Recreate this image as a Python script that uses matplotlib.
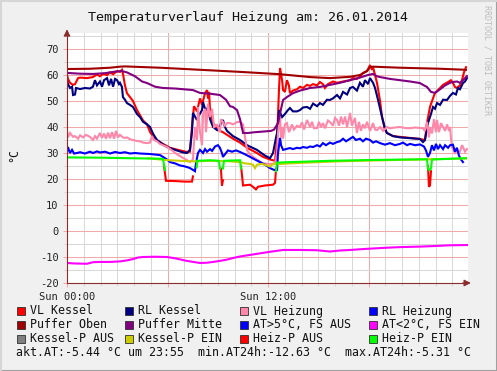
import numpy as np
import matplotlib
matplotlib.use('Agg')
import matplotlib.pyplot as plt
from matplotlib.patches import Rectangle
from matplotlib.lines import Line2D
from matplotlib.ticker import MultipleLocator

nan = np.nan

# times in hours since 00:00, values in degC
vl_kessel_t = [0.00, 0.06, 0.18, 0.36, 0.48, 0.66, 0.78, 1.19, 1.55, 1.79, 1.97, 2.15, 2.39, 2.57, 2.75, 2.99,
               3.16, 3.28, 3.34, 3.46, 3.58, 3.76, 3.94, 4.18, 4.36, 4.54, 4.78, 4.96, 5.13, 5.37, 5.73, 6.15,
               6.75, 7.16, 7.34, 7.46, 7.58, 7.76, 7.94, 8.06, 8.24, 8.36, 8.42, 8.48, 8.54, 8.72, 8.96, 9.13,
               9.31, 9.55, 9.91, 10.33, 10.75, 11.34, 11.70, 12.12, 12.42, 12.54, 12.66, 12.72, 12.84, 12.90,
               13.01, 13.13, 13.25, 13.31, 13.49, 13.73, 13.91, 14.09, 14.33, 14.51, 14.69, 14.93, 15.10, 15.28,
               15.40, 15.58, 15.88, 16.12, 16.48, 16.90, 17.07, 17.31, 17.49, 17.67, 17.91, 18.09, 18.21, 18.27,
               18.39, 18.51, 18.69, 18.81, 18.98, 19.10, 19.46, 19.88, 20.48, 21.07, 21.37, 21.49, 21.67, 21.85,
               21.97, 22.27, 22.45, 22.75, 22.92, 23.04, 23.16, 23.28, 23.46, 23.58, 23.70, 23.82]
vl_kessel = [60.0, 58.5, 57.0, 56.2, 56.5, 58.8, 59.0, 58.8, 59.2, 60.2, 59.5, 60.4, 60.0, 61.0, 60.3, 61.5,
             61.2, 62.0, 60.5, 56.0, 53.0, 51.5, 50.0, 46.5, 44.5, 42.5, 41.0, 38.0, 36.5, 35.0, 33.5, 32.0,
             31.0, 30.4, 30.5, 40.0, 48.0, 46.0, 51.0, 48.5, 53.0, 54.2, 51.0, 53.5, 46.5, 41.5, 39.5, 38.5,
             38.0, 37.0, 35.5, 34.0, 32.0, 30.0, 28.5, 27.5, 27.0, 35.0, 55.0, 62.7, 58.0, 54.2,
             53.5, 58.0, 56.0, 53.0, 54.0, 54.5, 55.5, 55.0, 56.2, 55.8, 56.5, 56.0, 57.3, 56.5,
             55.0, 56.5, 57.5, 57.0, 57.5, 58.0, 58.8, 58.5, 59.5, 60.8, 61.5, 63.8, 62.0, 63.0,
             60.0, 56.9, 50.0, 43.8, 39.0, 37.7, 36.5, 36.2, 35.8, 35.4, 35.0, 41.5, 47.7, 51.0,
             53.1, 55.0, 56.2, 57.3, 58.0, 57.0, 55.4, 55.0, 56.0, 58.0, 61.0, 63.0]

rl_kessel_t = [0.00, 0.06, 0.18, 0.30, 0.36, 0.48, 0.54, 0.78, 1.07, 1.37, 1.55, 1.67, 1.79, 1.97, 2.09, 2.21,
               2.39, 2.51, 2.63, 2.75, 2.87, 2.99, 3.10, 3.16, 3.28, 3.34, 3.46, 3.58, 3.76, 3.94, 4.18, 4.36,
               4.54, 4.78, 4.96, 5.13, 5.37, 5.67, 5.97, 6.45, 6.93, 7.16, 7.34, 7.46, 7.52, 7.64, 7.76, 7.88,
               8.06, 8.12, 8.24, 8.36, 8.42, 8.54, 8.72, 8.96, 9.13, 9.31, 9.43, 9.55, 9.91, 10.33, 10.75, 11.34,
               11.82, 12.12, 12.30, 12.48, 12.54, 12.66, 12.84, 13.01, 13.19, 13.31, 13.49, 13.73, 13.91, 14.09,
               14.33, 14.51, 14.69, 14.93, 15.10, 15.28, 15.52, 15.70, 15.88, 16.12, 16.30, 16.48, 16.72, 16.90,
               17.07, 17.31, 17.49, 17.67, 17.79, 17.97, 18.09, 18.27, 18.39, 18.57, 18.81, 18.98, 19.10, 19.46,
               19.88, 20.48, 21.07, 21.25, 21.37, 21.55, 21.73, 21.85, 21.97, 22.09, 22.27, 22.45, 22.69, 22.87,
               23.04, 23.22, 23.34, 23.46, 23.64, 23.76, 23.88]
rl_kessel = [58.0, 56.5, 55.0, 55.5, 52.3, 52.5, 55.0, 54.6, 55.0, 54.8, 55.5, 58.0, 56.0, 57.5, 55.5, 58.0,
             58.8, 56.0, 58.5, 55.5, 58.5, 58.0, 56.5, 57.0, 55.4, 51.5, 50.5, 49.2, 48.5, 47.7, 45.0, 43.8,
             42.0, 41.0, 40.0, 37.5, 35.0, 33.5, 32.3, 31.2, 30.2, 30.0, 31.2, 38.0, 45.4, 44.0, 42.7, 44.5,
             46.5, 49.6, 47.0, 46.5, 48.0, 43.0, 40.0, 38.8, 40.5, 42.7, 40.0, 38.5, 36.5, 35.0, 33.0, 31.2,
             29.0, 28.0, 30.0, 36.0, 37.7, 46.5, 43.8, 45.0, 46.5, 47.3, 46.0, 46.0, 46.5, 47.5,
             47.7, 47.0, 49.0, 48.0, 49.2, 48.5, 50.5, 50.4, 51.0, 52.3, 51.0, 53.5, 52.5, 55.0,
             55.4, 54.0, 57.0, 55.5, 58.0, 56.5, 58.8, 57.0, 55.0, 50.4, 43.8, 39.5, 37.7, 36.5,
             36.0, 35.7, 35.4, 34.2, 35.0, 41.5, 45.0, 47.7, 47.0, 49.2, 48.5, 50.5, 50.4, 52.0,
             53.1, 52.5, 55.0, 54.5, 56.9, 57.5, 58.8]

vl_heizung_t = [0.00, 0.06, 0.18, 0.36, 0.48, 0.66, 0.78, 0.96, 1.13, 1.37, 1.55, 1.67, 1.79, 1.97, 2.09, 2.21,
                2.33, 2.45, 2.57, 2.69, 2.81, 2.93, 3.04, 3.16, 3.34, 3.46, 3.58, 3.76, 3.94, 4.18, 4.36, 4.54,
                4.78, 4.96, 5.07, 5.19, 5.37, 5.55, 5.73, 5.97, 6.27, 6.57, 6.87, 7.16, 7.34, 7.52, 7.64, 7.76,
                7.82, 7.94, 8.06, 8.12, 8.24, 8.30, 8.42, 8.54, 8.66, 8.78, 8.96, 9.13, 9.19, 9.31, 9.43, 9.55,
                9.73, 9.91, 10.15, 10.33, 10.51, 10.63, 10.75, 10.93, 11.22, 11.70, 12.12, 12.42, 12.54, 12.60,
                12.72, 12.78, 12.84, 12.90, 13.01, 13.13, 13.25, 13.31, 13.43, 13.55, 13.73, 13.91, 14.03, 14.15,
                14.33, 14.51, 14.63, 14.75, 14.93, 15.04, 15.16, 15.28, 15.40, 15.58, 15.70, 15.88, 16.00, 16.12,
                16.24, 16.36, 16.48, 16.60, 16.72, 16.90, 17.01, 17.19, 17.31, 17.43, 17.55, 17.67, 17.79, 17.91,
                18.09, 18.27, 18.39, 18.51, 18.69, 18.87, 19.10, 19.28, 19.58, 19.88, 20.18, 20.48, 20.78, 21.07,
                21.25, 21.37, 21.49, 21.61, 21.67, 21.79, 21.91, 22.03, 22.09, 22.21, 22.33, 22.45, 22.57, 22.69,
                22.81, 22.87, 22.92, 22.98, 23.16, 23.28, 23.46, 23.58, 23.64, 23.76, 23.88]
vl_heizung = [38.5, 36.0, 37.7, 36.2, 36.5, 35.5, 36.8, 36.0, 37.0, 36.2, 35.0, 36.5, 35.5, 37.7, 35.8, 37.5,
              35.5, 37.8, 35.7, 38.0, 35.5, 38.5, 36.0, 37.0, 36.0, 35.8, 36.0, 35.3, 35.0, 34.6, 34.5, 34.0,
              33.8, 34.0, 36.5, 35.0, 34.5, 33.5, 33.0, 32.3, 31.0, 29.5, 28.3, 27.3, 26.5, 27.5, 40.0, 35.0,
              47.7, 38.0, 33.0, 45.0, 47.0, 38.0, 49.0, 43.8, 47.0, 40.0, 40.8, 38.0, 43.0, 41.9, 40.5, 41.5,
              41.5, 41.0, 41.9, 42.0, 41.0, 36.0, 31.0, 29.5, 28.0, 26.0, 25.8, 26.0, 30.0, 38.0,
              44.0, 36.0, 40.0, 35.5, 41.0, 41.5, 38.0, 38.8, 41.0, 39.0, 40.5, 40.0, 41.8, 39.0,
              42.7, 40.0, 42.0, 39.5, 39.6, 42.0, 40.0, 41.5, 39.5, 42.5, 41.9, 40.5, 43.5, 42.7,
              40.5, 44.0, 41.0, 44.0, 40.0, 45.4, 40.5, 43.5, 37.7, 42.0, 38.5, 41.0, 39.5, 42.0,
              38.5, 41.5, 39.0, 38.8, 40.0, 38.5, 40.0, 39.5, 39.8, 40.0, 39.6, 39.5, 39.8, 39.6,
              39.5, 38.5, 42.0, 36.0, 40.0, 37.5, 43.0, 38.0, 42.7, 38.0, 41.5, 40.0, 38.5, 41.0,
              38.5, 40.0, 36.0, 32.3, 30.0, 31.0, 30.5, 33.0, 32.3, 30.5, 31.5]

rl_heizung_t = [0.00, 0.06, 0.12, 0.18, 0.30, 0.42, 0.60, 0.78, 1.07, 1.37, 1.55, 1.79, 1.97, 2.27, 2.57, 2.87,
                3.16, 3.46, 3.76, 4.06, 4.36, 4.66, 4.96, 5.25, 5.55, 5.73, 5.97, 6.15, 6.45, 6.75, 6.93, 7.16,
                7.34, 7.52, 7.64, 7.70, 7.76, 7.82, 7.94, 8.12, 8.24, 8.36, 8.54, 8.66, 8.84, 9.01, 9.13, 9.25,
                9.31, 9.43, 9.55, 9.61, 9.85, 10.09, 10.33, 10.63, 10.93, 11.22, 11.52, 11.82, 12.12, 12.36,
                12.54, 12.60, 12.72, 12.78, 12.90, 13.07, 13.31, 13.49, 13.73, 13.91, 14.09, 14.33, 14.51, 14.69,
                14.93, 15.10, 15.28, 15.46, 15.70, 15.88, 16.12, 16.30, 16.48, 16.66, 16.90, 17.07, 17.25, 17.49,
                17.67, 17.85, 18.09, 18.27, 18.45, 18.69, 18.98, 19.28, 19.58, 19.88, 20.06, 20.30, 20.48, 20.78,
                21.07, 21.31, 21.43, 21.55, 21.67, 21.79, 21.91, 22.03, 22.15, 22.27, 22.45, 22.57, 22.75, 22.87,
                23.04, 23.16, 23.28, 23.40, 23.52, 23.64]
rl_heizung = [30.5, 32.3, 31.0, 30.0, 31.2, 29.8, 30.0, 30.3, 29.8, 30.5, 30.0, 30.6, 30.2, 30.5, 29.8, 30.4,
              30.0, 30.3, 29.8, 30.0, 29.8, 29.7, 29.6, 29.4, 29.2, 28.5, 27.5, 26.5, 26.0, 25.2, 25.0, 24.6,
              24.2, 23.5, 23.0, 26.0, 28.0, 30.0, 31.2, 30.0, 31.5, 30.5, 31.5, 30.8, 32.5, 33.0, 32.0, 30.0,
              28.5, 29.5, 30.5, 31.0, 30.5, 31.0, 30.4, 29.5, 28.5, 27.5, 26.5, 25.5, 24.2, 23.5,
              23.5, 30.0, 35.8, 33.0, 31.2, 31.5, 31.9, 31.5, 32.0, 31.8, 32.3, 32.0, 32.5, 32.3,
              33.0, 32.5, 33.8, 33.0, 34.0, 33.5, 34.2, 34.5, 35.5, 34.5, 35.5, 36.2, 35.0, 35.5,
              34.5, 35.5, 35.0, 34.0, 34.5, 33.8, 33.2, 33.8, 33.0, 33.5, 34.0, 33.0, 33.5, 33.0,
              33.3, 32.5, 31.0, 28.5, 30.0, 33.0, 31.0, 33.5, 31.5, 33.0, 31.5, 33.0, 32.0, 33.0,
              33.2, 30.5, 32.0, 29.0, 27.5, 26.5]

puffer_oben_t = [0.00, 1.37, 2.57, 3.16, 3.46, 5.55, 7.94, 10.33, 12.72, 14.51, 15.70, 16.90, 17.49, 17.91,
                 18.09, 18.27, 19.88, 22.27, 23.82]
puffer_oben = [62.3, 62.4, 62.8, 63.2, 63.3, 62.8, 62.0, 61.2, 60.3, 59.2, 58.8, 59.3, 60.0, 61.5,
               63.0, 63.2, 62.8, 62.4, 62.0]

puffer_mitte_t = [0.00, 0.78, 1.55, 2.27, 2.87, 3.28, 3.58, 4.06, 4.48, 4.78, 5.25, 5.73, 6.45, 7.52, 7.94, 8.54,
                  9.13, 9.49, 9.73, 9.91, 10.15, 10.33, 10.51, 10.81, 11.22, 11.82, 12.18, 12.36, 12.60, 12.78,
                  12.90, 13.13, 13.49, 13.91, 14.51, 15.10, 15.70, 16.30, 16.90, 17.49, 17.97, 18.27, 18.51, 18.69,
                  19.28, 19.88, 20.48, 21.07, 21.31, 21.49, 21.73, 21.97, 22.27, 22.57, 22.87, 23.04, 23.28, 23.46,
                  23.64, 23.88]
puffer_mitte = [60.8, 60.5, 60.4, 60.7, 61.3, 61.5, 61.0, 59.5, 57.5, 56.9, 55.5, 55.0, 54.8, 54.2, 53.1, 52.8,
                52.3, 50.5, 48.0, 47.7, 46.5, 43.0, 37.7, 37.7, 38.0, 38.3, 38.5, 39.0, 41.5, 47.0,
                50.4, 51.5, 53.0, 54.0, 55.0, 55.4, 56.2, 57.0, 58.0, 59.0, 60.0, 60.4, 59.5, 59.2,
                58.5, 58.0, 57.5, 56.9, 56.0, 55.4, 53.5, 53.1, 54.5, 56.0, 57.0, 57.3, 57.5, 57.0,
                58.0, 59.6]

at_kalt_t = [0.00, 0.48, 1.19, 1.55, 1.97, 2.57, 3.16, 3.58, 3.94, 4.24, 4.54, 5.25, 5.97, 6.45, 7.16, 7.64,
             7.94, 8.36, 8.72, 9.13, 9.55, 9.91, 10.33, 10.93, 11.52, 12.12, 12.90, 13.91, 14.93, 15.70,
             16.30, 16.90, 17.79, 18.87, 19.88, 21.07, 21.85, 22.87, 23.88]
at_kalt = [-12.3, -12.5, -12.6, -12.0, -11.9, -11.9, -11.7, -11.3, -10.8, -10.2, -10.0, -9.9, -10.0, -10.5,
           -11.5, -12.0, -12.3, -12.2, -11.9, -11.5, -11.0, -10.4, -9.8, -9.2, -8.6, -8.0, -7.3, -7.3, -7.4,
           -7.9, -7.5, -7.3, -6.9, -6.5, -6.2, -6.0, -5.8, -5.5, -5.4]

kessel_p_ein_t = [4.84, 5.55, 6.15, 6.75, 7.34, 7.76, 8.54, 9.73, 10.33, 10.63, 10.93, 11.10, 11.22, 11.34,
                  11.64, 11.94, 12.12, 12.24, 12.42, 12.72, 13.31, 13.91, 15.10, 16.30, 18.09, 21.07, 23.82]
kessel_p_ein = [28.0, 27.5, 27.2, 27.0, 26.8, 26.8, 27.0, 26.8, 26.5, 26.0, 25.8, 25.5, 24.2, 25.5,
                25.8, 25.2, 24.8, 25.5, 26.0, 25.8, 26.0, 26.2, 26.5, 26.8, 27.1, 27.5, 27.9]

heiz_p_aus_t = [5.79, 5.91, 6.45, 7.04, 7.46, 7.52, 7.53,
                9.19, 9.25, 9.31, 9.32,
                10.39, 10.51, 10.93, 11.10, 11.28, 11.40, 11.82, 12.30, 12.42, 12.48, 12.49,
                21.55, 21.61, 21.67, 21.73]
heiz_p_aus = [25.0, 19.3, 19.2, 19.0, 19.0, 21.0, nan,
              24.0, 17.5, 19.5, nan,
              25.0, 17.5, 17.8, 17.0, 16.0, 17.0, 17.5, 17.8, 18.5, 24.0, nan,
              25.0, 17.0, 17.5, 23.0]

heiz_p_ein_t = [0.00, 1.97, 3.76, 5.55, 5.73, 5.85, 5.86,
                7.74, 7.78, 8.54, 9.07, 9.13, 9.14,
                9.31, 9.37, 10.33, 10.39, 10.40,
                12.48, 12.54, 13.31, 13.91, 15.70, 18.09, 21.49, 21.55, 21.61, 21.73, 21.79, 23.82]
heiz_p_ein = [28.3, 28.2, 28.0, 27.8, 27.7, 23.5, nan,
              24.5, 27.0, 27.2, 27.0, 24.0, nan,
              24.0, 27.0, 27.2, 24.0, nan,
              23.0, 26.3, 26.5, 26.6, 27.0, 27.3, 27.6, 24.0, 23.5, 24.0, 27.5, 28.0]

legend_labels = ['VL Kessel', 'RL Kessel', 'VL Heizung', 'RL Heizung',
                 'Puffer Oben', 'Puffer Mitte', 'AT>5°C, FS AUS', 'AT<2°C, FS EIN',
                 'Kessel-P AUS', 'Kessel-P EIN', 'Heiz-P AUS', 'Heiz-P EIN']
legend_colors = ['#FF0000', '#000080', '#FF88AA', '#0000FF',
                 '#A00000', '#800080', '#0000FF', '#FF00FF',
                 '#808080', '#CCCC00', '#FF0000', '#00FF00']

title = 'Temperaturverlauf Heizung am: 26.01.2014'
footer = 'akt.AT:-5.44 °C um 23:55  min.AT24h:-12.63 °C  max.AT24h:-5.31 °C'

W, H = 497, 371
plt.rcParams['font.family'] = 'DejaVu Sans Mono'

fig = plt.figure(figsize=(W / 100, H / 100), dpi=100, facecolor='#F0F0F0')
ax = fig.add_axes([67 / W, 1 - 283 / H, 401 / W, 250 / H])
ax.set_facecolor('white')

series = [
    (vl_kessel_t, vl_kessel, '#FF0000'),
    (rl_kessel_t, rl_kessel, '#000080'),
    (vl_heizung_t, vl_heizung, '#FF88AA'),
    (rl_heizung_t, rl_heizung, '#0000FF'),
    (puffer_oben_t, puffer_oben, '#A00000'),
    (puffer_mitte_t, puffer_mitte, '#800080'),
    (at_kalt_t, at_kalt, '#FF00FF'),
    (kessel_p_ein_t, kessel_p_ein, '#CCCC00'),
    (heiz_p_aus_t, heiz_p_aus, '#FF0000'),
    (heiz_p_ein_t, heiz_p_ein, '#00FF00'),
]
for i, (t, v, c) in enumerate(series):
    ax.plot(t, v, color=c, lw=1.5, zorder=3 + i * 0.1, solid_joinstyle='miter')

ax.set_xlim(0, 23.94)
ax.set_ylim(-20, 76.15)

ax.xaxis.set_major_locator(MultipleLocator(6))
ax.xaxis.set_minor_locator(MultipleLocator(1))
ax.yaxis.set_major_locator(MultipleLocator(10))
ax.yaxis.set_minor_locator(MultipleLocator(5))
ax.set_xticklabels([])
ax.set_yticks(range(-20, 71, 10))
ax.set_yticklabels([str(v) for v in range(-20, 71, 10)])
ax.grid(which='minor', color='#D8D8D8', lw=0.75, zorder=1)
ax.grid(which='major', color='#F0AAAA', lw=0.75, zorder=2)
ax.tick_params(which='major', length=3, width=0.75, color='#F0AAAA', labelsize=7.5, pad=3)
ax.tick_params(which='minor', length=2, width=0.75, color='#D8D8D8')
ax.tick_params(axis='y', labelcolor='#222222')

for s in ['top', 'right']:
    ax.spines[s].set_visible(False)
axis_col = '#8C2D2D'
for s in ['left', 'bottom']:
    ax.spines[s].set_color(axis_col)
    ax.spines[s].set_linewidth(0.8)
    ax.spines[s].set_zorder(5)
ax.annotate('', xy=(0, 1.026), xytext=(0, 0.98), xycoords='axes fraction', textcoords='axes fraction',
            arrowprops=dict(arrowstyle='-|>', color=axis_col, lw=0.8, mutation_scale=10), annotation_clip=False)
ax.annotate('', xy=(1.014, 0), xytext=(0.98, 0), xycoords='axes fraction', textcoords='axes fraction',
            arrowprops=dict(arrowstyle='-|>', color=axis_col, lw=0.8, mutation_scale=10), annotation_clip=False)

# x tick labels (only 00:00 and 12:00 are labelled)
for h, lab in [(0, 'Sun 00:00'), (12, 'Sun 12:00')]:
    ax.text(h, -23.3, lab, ha='center', va='top', fontsize=7.5, color='#222222', clip_on=False)

fig.text(248 / W, 1 - 17 / H, title, ha='center', va='center', fontsize=9.6, color='#111111')
fig.text(14 / W, 1 - 155 / H, '°C', rotation=90, ha='center', va='center', fontsize=8.4, color='#111111')
fig.text(487 / W, 1 - 60 / H, 'RRDTOOL / TOBI OETIKER', rotation=270, ha='center', va='center',
         fontsize=6, color='#BDBDBD')

# legend
col_x = [17, 125, 240, 369]
row_y = [311, 325, 339]
for i, (lab, c) in enumerate(zip(legend_labels, legend_colors)):
    x = col_x[i % 4]
    y = row_y[i // 4]
    fig.add_artist(Rectangle((x / W, 1 - (y + 4) / H), 8 / W, 8 / H, transform=fig.transFigure,
                             facecolor=c, edgecolor='#303030', lw=0.6))
    fig.text((x + 13) / W, 1 - y / H, lab, ha='left', va='center', fontsize=8.4, color='#111111')
fig.text(16 / W, 1 - 353 / H, footer, ha='left', va='center', fontsize=8.4, color='#111111')

# image frame
fig.add_artist(Line2D([0, 1], [0.5 / H, 0.5 / H], transform=fig.transFigure, color='#A0A0A0', lw=1.5))
fig.add_artist(Line2D([1 - 0.5 / W, 1 - 0.5 / W], [0, 1], transform=fig.transFigure, color='#A0A0A0', lw=1.5))
fig.add_artist(Line2D([0, 1], [1 - 0.5 / H, 1 - 0.5 / H], transform=fig.transFigure, color='#D6D6D6', lw=1.5))
fig.add_artist(Line2D([0.5 / W, 0.5 / W], [0, 1], transform=fig.transFigure, color='#D6D6D6', lw=1.5))

fig.savefig('out.png', dpi=100, facecolor=fig.get_facecolor())
